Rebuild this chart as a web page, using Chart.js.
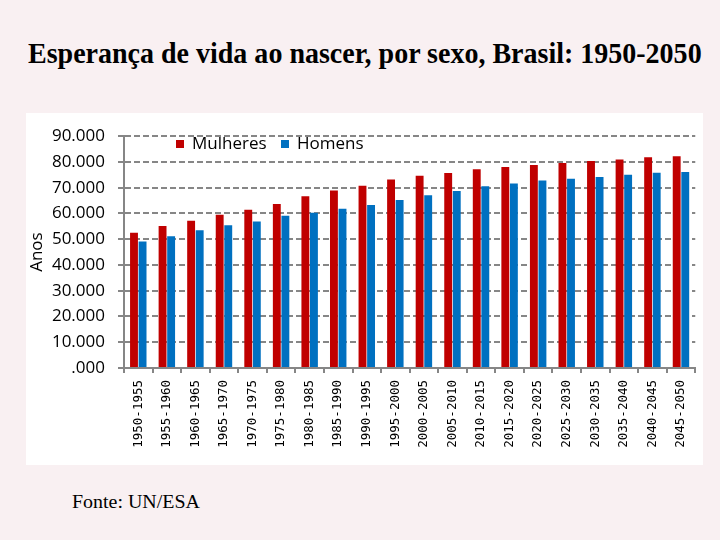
<!DOCTYPE html>
<html>
<head>
<meta charset="utf-8">
<script src="https://cdn.jsdelivr.net/npm/chart.js@4.4.1/dist/chart.umd.min.js"></script>
<style>
  html, body { margin: 0; padding: 0; }
  body {
    width: 720px; height: 540px; position: relative; overflow: hidden;
    background: #f9f0f2;
  }
  .serif { position: absolute; white-space: nowrap; font-family: 'Liberation Serif', 'Times New Roman', serif; color: #000; transform-origin: 0 0; }
  #title { left: 28px; top: 39px; font-size: 29px; line-height: 29px; font-weight: bold; }
  #source { left: 72px; top: 492px; font-size: 19px; line-height: 19px; }
  #panel { position: absolute; left: 26px; top: 113px; width: 677px; height: 352px; background: #fff; }
  #legend { position: absolute; left: 176px; top: 134px; height: 17px; font-family: 'Open Sans', sans-serif; font-size: 17px; line-height: 17px; color: #000; white-space: nowrap; }
  #legend .item { position: absolute; top: 0; }
  #legend .box { position: absolute; top: 6px; left: 0; width: 8px; height: 8px; }
  #legend .lbl { position: absolute; left: 16px; top: 0; }
</style>
</head>
<body>
<div id="title" class="serif">Esperança de vida ao nascer, por sexo, Brasil: 1950-2050</div>
<div id="panel"><canvas id="lifeChart" width="677" height="352"></canvas></div>
<div id="legend"></div>
<div id="source" class="serif">Fonte: UN/ESA</div>

<script>
const periods = ['1950-1955', '1955-1960', '1960-1965', '1965-1970', '1970-1975',
  '1975-1980', '1980-1985', '1985-1990', '1990-1995', '1995-2000',
  '2000-2005', '2005-2010', '2010-2015', '2015-2020', '2020-2025',
  '2025-2030', '2030-2035', '2035-2040', '2040-2045', '2045-2050'];

const mulheres = [52.5, 55.1, 57.2, 59.5, 61.4, 63.7, 66.7, 68.9, 70.8, 73.2,
  74.6, 75.7, 77.2, 78.0, 78.8, 79.6, 80.4, 81.0, 81.8, 82.2];

const homens = [49.1, 51.2, 53.5, 55.4, 56.9, 59.1, 60.3, 61.8, 63.3, 65.2,
  67.1, 68.7, 70.6, 71.6, 72.8, 73.5, 74.2, 75.0, 75.8, 76.1];

const yTickLabels = ['.000', '10.000', '20.000', '30.000', '40.000',
  '50.000', '60.000', '70.000', '80.000', '90.000'];

const gray = '#868686';

// squeeze the serif texts to the width they have in the picture
function fitWidth(id, w) {
  const el = document.getElementById(id);
  el.style.transform = 'scaleX(' + (w / el.offsetWidth) + ')';
}
fitWidth('title', 674);
fitWidth('source', 128);

const ctx = document.getElementById('lifeChart').getContext('2d');

const lifeChart = new Chart(ctx, {
  type: 'bar',
  data: {
    labels: periods,
    datasets: [
      { label: 'Mulheres', data: mulheres, backgroundColor: '#c00000', borderWidth: 0 },
      { label: 'Homens', data: homens, backgroundColor: '#0070c0', borderWidth: 0 },
    ],
  },
  options: {
    responsive: false,
    animation: false,
    layout: { padding: { top: 16, right: 1, left: 0, bottom: 0 } },
    datasets: { bar: { categoryPercentage: 0.6, barPercentage: 0.92 } },
    plugins: {
      legend: { display: false },
      tooltip: { enabled: false },
    },
    scales: {
      x: {
        afterFit: (scale) => { scale.height = 97; },
        grid: { drawOnChartArea: false, drawTicks: true, tickLength: 5, color: gray, lineWidth: 2 },
        border: { color: gray, width: 2 },
        ticks: {
          color: '#000',
          minRotation: 90,
          maxRotation: 90,
          autoSkip: false,
          padding: 7,
          font: { family: "'DejaVu Sans Mono', monospace", size: 12.5 },
        },
      },
      y: {
        min: 0,
        max: 90,
        afterFit: (scale) => { scale.width = 98; },
        grid: { color: gray, lineWidth: 2, tickLength: 6, tickBorderDash: [] },
        border: { color: gray, width: 2, dash: [6, 3] },
        ticks: {
          stepSize: 10,
          color: '#000',
          padding: 13,
          font: { family: "'Open Sans', sans-serif", size: 17 },
          callback: (v, i) => yTickLabels[i],
        },
        title: {
          display: true,
          text: 'Anos',
          color: '#000',
          padding: { top: 1, bottom: 0 },
          font: { family: "'Open Sans', sans-serif", size: 17 },
        },
      },
    },
  },
});

// legend drawn as html text over the plot, like in the picture
const legend = document.getElementById('legend');
const legendX = [0, 105];
lifeChart.data.datasets.forEach((ds, i) => {
  const item = document.createElement('div');
  item.className = 'item';
  item.style.left = legendX[i] + 'px';
  item.innerHTML = '<span class="box" style="background:' + ds.backgroundColor + '"></span>' +
    '<span class="lbl">' + ds.label + '</span>';
  legend.appendChild(item);
});
</script>
</body>
</html>
